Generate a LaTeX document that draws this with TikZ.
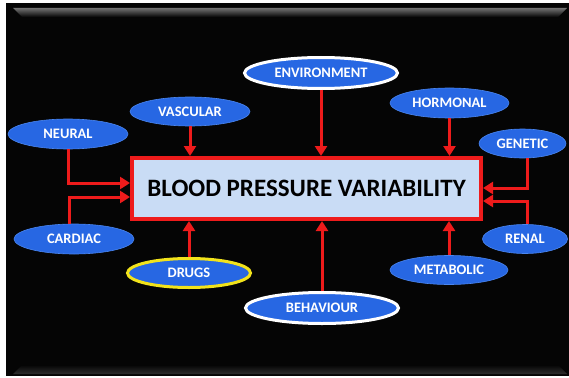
\documentclass[tikz,border=0pt]{standalone}
\usepackage{fontspec}
\setmainfont{Carlito}
\usepackage{tikz}
\usetikzlibrary{shapes.geometric, arrows.meta, positioning, calc}
\usepackage{xcolor}
\definecolor{slate-black}{HTML}{050505}
\definecolor{factor-blue}{HTML}{2767E3}
\definecolor{factor-edge}{HTML}{4A86F0}
\definecolor{link-red}{HTML}{EE1B1B}
\definecolor{core-fill}{HTML}{C9DCF5}
\definecolor{ring-yellow}{HTML}{F2E31B}

\begin{document}
\begin{tikzpicture}[x=1pt, y=-1pt,
    factor/.style={ellipse, fill=factor-blue, draw=factor-edge, line width=0.6pt,
      inner sep=0pt, minimum width=120pt, minimum height=30pt, text=white,
      font=\bfseries\fontsize{14.5}{16}\selectfont},
    ring/.style={draw=#1, line width=3pt},
    link/.style={draw=link-red, line width=3pt, -{Triangle[length=10pt, width=12pt]}}]
    % ── slide background with bevel
    \useasboundingbox (0,0) rectangle (569,377);
    \fill[white] (0,0) rectangle (569,377);
    \fill[slate-black] (6,3) rectangle (569,376);
    \shade[top color=black!55!white, bottom color=slate-black]
          (13,8) -- (567,8) -- (558,17) -- (22,17) -- cycle;
    \shade[top color=slate-black, bottom color=black!82!white]
          (22,365) -- (558,365) -- (567,374) -- (13,374) -- cycle;
    % ── central box
    \node[draw=link-red, line width=4pt, fill=core-fill, minimum width=349pt,
          minimum height=61pt, font=\bfseries\fontsize{25}{28}\selectfont]
          (bpv) at (306.5,188.5) {BLOOD PRESSURE VARIABILITY};
    % ── factors
    \node[factor, ring=white, minimum width=153pt, minimum height=31pt]
          (environment) at (321,73) {ENVIRONMENT};
    \node[factor, minimum height=29pt] (vascular) at (190,111.5) {VASCULAR};
    \node[factor] (neural) at (68,134) {NEURAL};
    \node[factor, minimum width=119pt] (hormonal) at (449.5,103) {HORMONAL};
    \node[factor, minimum width=87pt, minimum height=29pt] (genetic) at (522.5,143.5) {GENETIC};
    \node[factor] (cardiac) at (74,239) {CARDIAC};
    \node[factor, ring=ring-yellow, minimum width=123pt, minimum height=29pt]
          (drugs) at (189,273) {DRUGS};
    \node[factor, ring=white, minimum width=153pt, minimum height=31pt]
          (behaviour) at (322,308) {BEHAVIOUR};
    \node[factor, minimum width=118pt, minimum height=29pt] (metabolic) at (449,270) {METABOLIC};
    \node[factor, minimum width=85pt, minimum height=29pt] (renal) at (525,239) {RENAL};
    % ── links into the box
    \draw[link] (vascular.south) -- (vascular.south |- bpv.north);
    \draw[link] (environment.south) -- (environment.south |- bpv.north);
    \draw[link] (hormonal.south) -- (hormonal.south |- bpv.north);
    \draw[link] (drugs.north) -- (drugs.north |- bpv.south);
    \draw[link] (behaviour.north) -- (behaviour.north |- bpv.south);
    \draw[link] (metabolic.north) -- (metabolic.north |- bpv.south);
    \draw[link] (neural.south) |- ([yshift=5.5pt]bpv.west);
    \draw[link] ($(cardiac.north)+(-5,0)$) |- ([yshift=-8.5pt]bpv.west);
    \draw[link] ($(genetic.south)+(4.5,0)$) |- ([yshift=0.5pt]bpv.east);
    \draw[link] ($(renal.north)+(2,0)$) |- ([yshift=-12.5pt]bpv.east);
\end{tikzpicture}
\end{document}
